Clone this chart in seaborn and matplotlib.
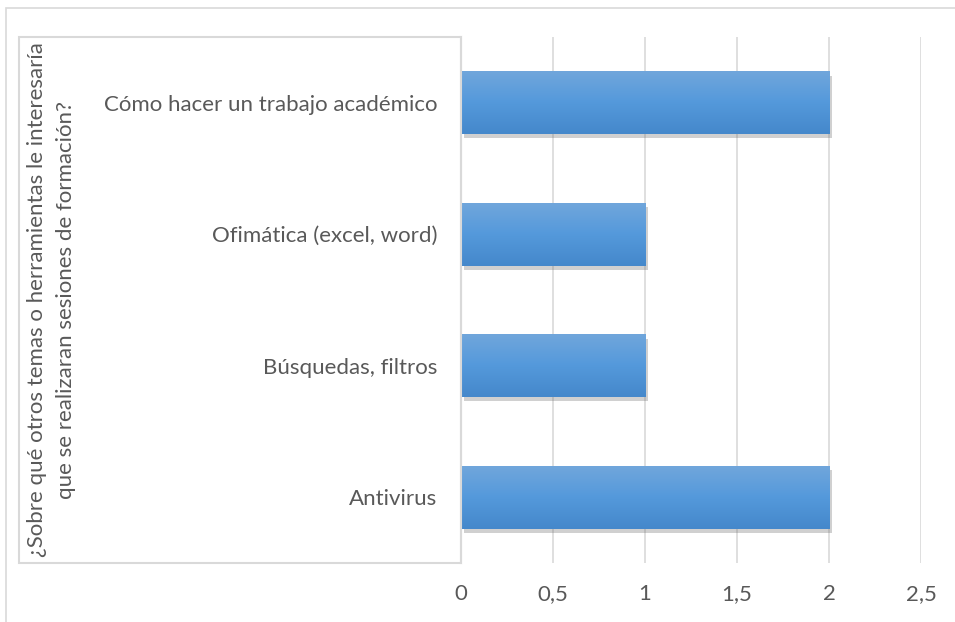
import matplotlib
matplotlib.use("Agg")
import matplotlib.pyplot as plt
import matplotlib.patheffects as pe
from matplotlib.patches import Rectangle
from matplotlib.ticker import FuncFormatter
from matplotlib.colors import LinearSegmentedColormap
import numpy as np
import pandas as pd
import seaborn as sns

categories = ["Cómo hacer un trabajo académico", "Ofimática (excel, word)",
              "Búsquedas, filtros", "Antivirus"]
values = [2, 1, 1, 2]
axis_title = "¿Sobre qué otros temas o herramientas le interesaría\nque se realizaran sesiones de formación?"
xticks = [0, 0.5, 1, 1.5, 2, 2.5]

sns.set_theme(style="white")
plt.rcParams['font.family'] = ['Lato', 'DejaVu Sans']

W, H = 955, 622
fig = plt.figure(figsize=(W / 100, H / 100), dpi=100)
ax = fig.add_axes([461 / W, 1 - 563 / H, (921 - 461) / W, (563 - 37) / H])

df = pd.DataFrame({"cat": categories, "val": values})
sns.barplot(data=df, x="val", y="cat", orient="h", color="#5b9bd5", width=0.476,
            ax=ax, zorder=3, linewidth=0)

grey = "#d9d9d9"
txt = "#595959"
fs = 16
ax.set_xlim(0, 2.5)
ax.set_xticks(xticks)
ax.xaxis.set_major_formatter(FuncFormatter(lambda v, p: f"{v:g}".replace(".", ",")))
ax.grid(axis="x", color=grey, lw=1.2, zorder=0)
ax.set_axisbelow(True)
for s in ["top", "right", "bottom"]:
    ax.spines[s].set_visible(False)
ax.spines["left"].set_color(grey)
ax.spines["left"].set_linewidth(1.5)
ax.tick_params(axis="both", length=0, colors=txt, labelsize=fs)
ax.tick_params(axis="y", pad=17)
ax.tick_params(axis="x", pad=15)
ax.set_xlabel("")
ax.set_ylabel("")

ylim = ax.get_ylim()
grad = np.linspace(0, 1, 64).reshape(-1, 1)
cmap = LinearSegmentedColormap.from_list("g", ["#70a6dc", "#5499db", "#4588cb"])
for p in list(ax.patches):
    p.set_linewidth(0)
    p.set_path_effects([pe.SimplePatchShadow(offset=(2, -3), shadow_rgbFace="#666666", alpha=0.3),
                        pe.Normal()])
    x, y, w, h = p.get_x(), p.get_y(), p.get_width(), p.get_height()
    im = ax.imshow(grad, extent=(x, x + w, y + h, y), origin="upper", cmap=cmap,
                   aspect="auto", zorder=4, interpolation="bilinear")
    im.set_clip_path(p)
ax.set_ylim(ylim)
ax.set_xlim(0, 2.5)

# inner box around category axis
fig.add_artist(Rectangle((19 / W, 1 - 563 / H), (461 - 19) / W, (563 - 37) / H,
                         transform=fig.transFigure, fill=False, ec=grey, lw=1.5))
# outer chart border
fig.add_artist(Rectangle((6 / W, -0.1), 1.2, 1.1 - 8 / H,
                         transform=fig.transFigure, fill=False, ec=grey, lw=1.2))

fig.text(51.5 / W, 1 - 300 / H, axis_title, rotation=90, ha="center", va="center",
         color=txt, fontsize=fs, linespacing=1.6, multialignment="center")

fig.savefig("out.png", dpi=100)
